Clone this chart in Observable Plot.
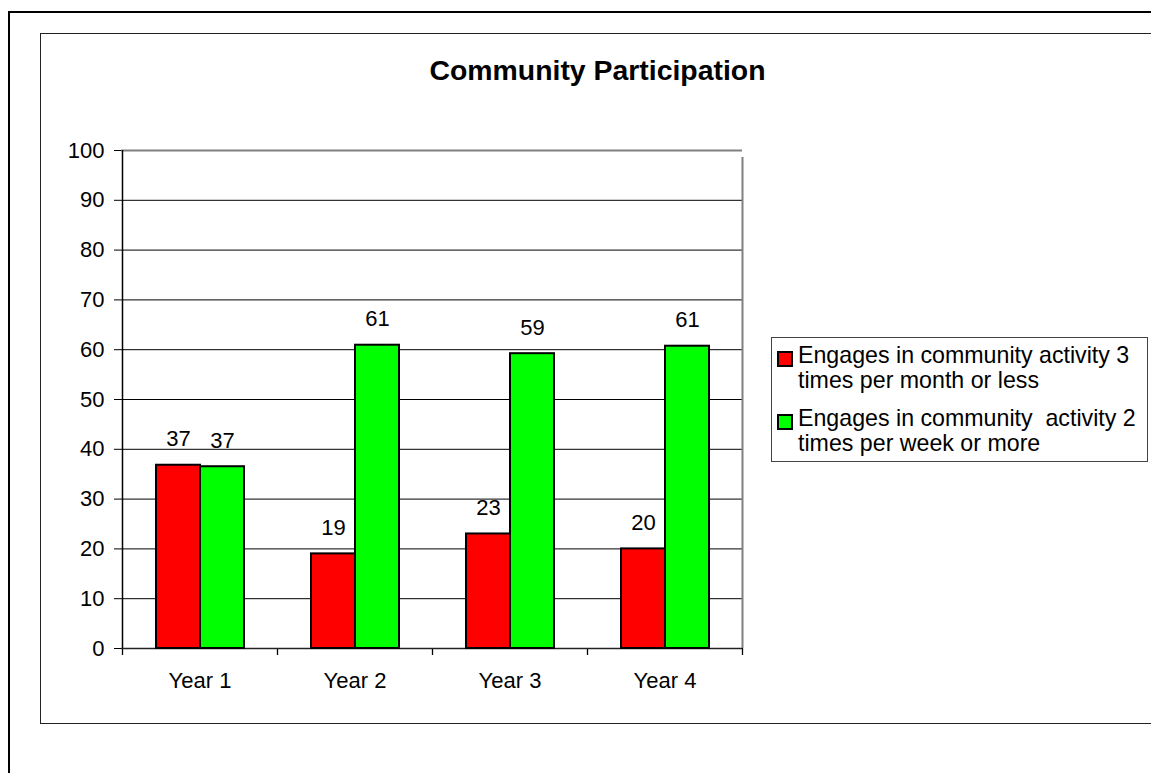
<!DOCTYPE html>
<html>
<head>
<meta charset="utf-8">
<script src="https://cdn.jsdelivr.net/npm/d3@7"></script>
<script src="https://cdn.jsdelivr.net/npm/@observablehq/plot@0.6"></script>
<style>
  html, body { margin: 0; padding: 0; width: 1151px; height: 773px; overflow: hidden; background: #fff;
    font-family: "Liberation Sans", Arial, sans-serif; color: #000; }
  #outer { position: absolute; left: 8px; top: 11px; width: 1300px; height: 900px; border: 2px solid #000; box-sizing: border-box; z-index: 5; }
  #inner { position: absolute; left: 40px; top: 33px; width: 1300px; height: 691px; border: 1px solid #222; box-sizing: border-box; z-index: 5; }
  #chart svg { position: absolute; left: 0; top: 0; }
  #title { position: absolute; left: 0; width: 1195px; top: 56px; text-align: center; font-weight: bold; font-size: 28.4px; line-height: 28px; white-space: nowrap; z-index: 6; }
  #legend { position: absolute; left: 771px; top: 337px; width: 377px; height: 125px; box-sizing: border-box; border: 1px solid #444; background: #fff; padding-top: 5px; z-index: 6; }
  .entry { display: flex; align-items: flex-start; font-size: 23.2px; line-height: 24.7px; }
  .entry + .entry { margin-top: 14px; }
  .swatch { flex: none; width: 16px; height: 16px; box-sizing: border-box; border: 2px solid #000; margin: 8px 5px 0 5px; }
  .label { width: 350px; white-space: pre-wrap; }
</style>
</head>
<body>
<div id="chart"></div>
<div id="outer"></div>
<div id="inner"></div>
<div id="title"></div>
<div id="legend"></div>
<script>
// ---- data ----
const chartTitle = "Community Participation";
const years = ["Year 1", "Year 2", "Year 3", "Year 4"];
const seriesKeys = ["low", "high"];
const seriesNames = [
  "Engages in community activity 3 times per month or less",
  "Engages in community  activity 2 times per week or more"
];
const lowValues = [36.8, 19.0, 23.0, 20.0];
const highValues = [36.5, 60.9, 59.2, 60.7];
const seriesColors = ["#FF0000", "#00FF00"];
const yTicks = [0, 10, 20, 30, 40, 50, 60, 70, 80, 90, 100];

// ---- table ----
const valuesBySeries = {low: lowValues, high: highValues};
const data = years.flatMap((year, i) => seriesKeys.map(s => ({year, series: s, value: valuesBySeries[s][i]})));
const boundaries = d3.range(years.length + 1); // edges of the category bands

const W = 1151, H = 773;
const margins = {marginLeft: 121, marginRight: 409, marginTop: 150, marginBottom: 125};
const font = '"Liberation Sans", Arial, sans-serif';

// frame / grid / y-axis layer
const framePlot = Plot.plot({
  width: W, height: H, ...margins,
  style: {background: "transparent", fontFamily: font, fontSize: "22px", color: "#000", overflow: "visible"},
  x: {type: "point", domain: boundaries, padding: 0, axis: null},
  y: {domain: [0, 100], axis: null},
  marks: [
    Plot.ruleY(yTicks.filter(d => d > 0 && d < 100), {stroke: "#000", strokeWidth: 1}),
    Plot.ruleY([100], {stroke: "#808080", strokeWidth: 2}),
    Plot.ruleX(boundaries, {x: d => d, y1: 0, y2: 0, insetBottom: -7, stroke: "#000", strokeWidth: 1.3}),
    Plot.ruleX([boundaries[0]], {y1: 0, y2: 100, stroke: "#000", strokeWidth: 1.5}),
    Plot.ruleX([boundaries[boundaries.length - 1]], {y1: 0, y2: 100, insetBottom: -7, stroke: "#808080", strokeWidth: 2}),
    Plot.ruleY([0], {stroke: "#222", strokeWidth: 1.5}),
    Plot.axisY({ticks: yTicks, tickSize: 7, tickPadding: 10, label: null, fontSize: 22, stroke: "#000"})
  ]
});

// bars layer
const barPlot = Plot.plot({
  width: W, height: H, ...margins,
  style: {background: "transparent", fontFamily: font, fontSize: "22px", color: "#000", overflow: "visible"},
  fx: {domain: years, padding: 0, label: null, axis: null},
  x: {domain: seriesKeys, paddingInner: 0, paddingOuter: 0.725, axis: null},
  y: {domain: [0, 100], axis: null},
  color: {domain: seriesKeys, range: seriesColors},
  marks: [
    Plot.barY(data, {fx: "year", x: "series", y: "value", fill: "series", stroke: "#000", strokeWidth: 2}),
    Plot.text(data, {fx: "year", x: "series", y: "value", text: d => String(Math.round(d.value)), dy: -26, fontSize: 22, fill: "#000"}),
    Plot.axisFx({anchor: "bottom", tickSize: 0, tickPadding: 24, label: null, fontSize: 22})
  ]
});

const chart = document.getElementById("chart");
chart.appendChild(framePlot);
chart.appendChild(barPlot);

document.getElementById("title").textContent = chartTitle;
const legend = document.getElementById("legend");
seriesNames.forEach((name, i) => {
  const e = document.createElement("div");
  e.className = "entry";
  const sw = document.createElement("div");
  sw.className = "swatch";
  sw.style.background = seriesColors[i];
  const lb = document.createElement("div");
  lb.className = "label";
  lb.textContent = name;
  e.appendChild(sw); e.appendChild(lb);
  legend.appendChild(e);
});
</script>
</body>
</html>
